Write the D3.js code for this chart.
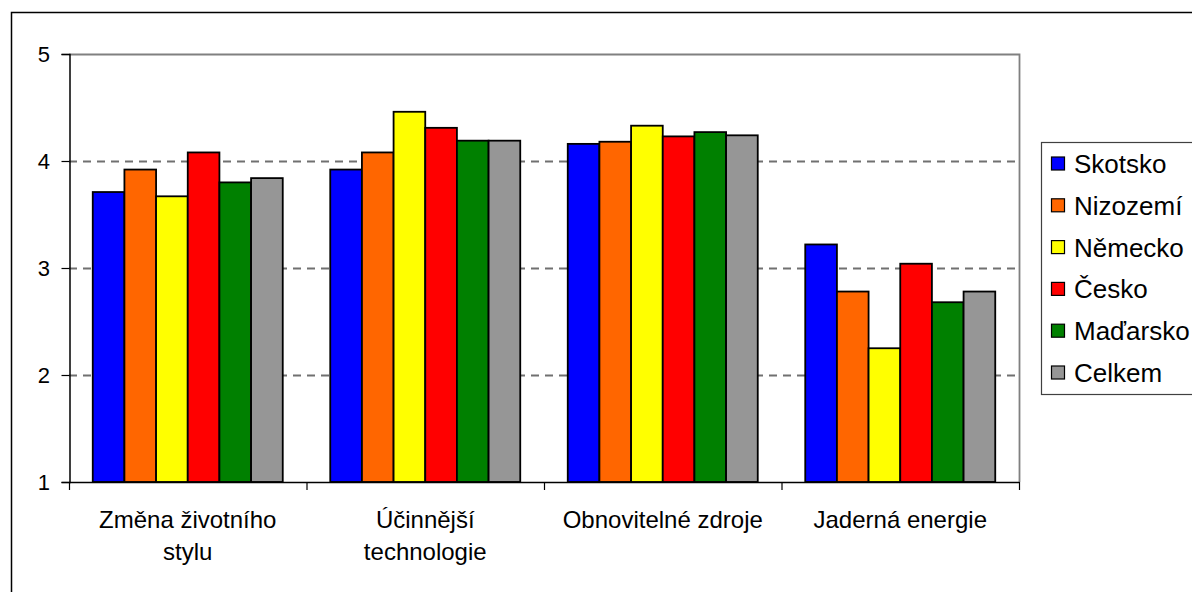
<!DOCTYPE html>
<html>
<head>
<meta charset="utf-8">
<script src="https://cdn.jsdelivr.net/npm/d3@7"></script>
<style>
  html, body { margin: 0; padding: 0; background: #fff; }
  svg { display: block; font-family: "Liberation Sans", Arial, sans-serif; }
  .ylab { font-size: 22px; }
</style>
</head>
<body>
<svg id="chart" width="1192" height="592"></svg>
<script>
// Categories (two-line labels split by "\n")
const categories = ["Změna životního\nstylu", "Účinnější\ntechnologie", "Obnovitelné zdroje", "Jaderná energie"];
const seriesNames = ["Skotsko", "Nizozemí", "Německo", "Česko", "Maďarsko", "Celkem"];
const seriesColors = ["#0000ff", "#ff6600", "#ffff00", "#ff0000", "#008000", "#969696"];

// Mean values per series, one entry per category
const skotsko  = [3.71, 3.92, 4.16, 3.22];
const nizozemi = [3.92, 4.08, 4.18, 2.78];
const nemecko  = [3.67, 4.46, 4.33, 2.25];
const cesko    = [4.08, 4.31, 4.23, 3.04];
const madarsko = [3.80, 4.19, 4.27, 2.68];
const celkem   = [3.84, 4.19, 4.24, 2.78];
const seriesValues = [skotsko, nizozemi, nemecko, cesko, madarsko, celkem];

const yTicks = [1, 2, 3, 4, 5];

const svg = d3.select("#chart");
const plot = { left: 69, right: 1019, top: 54, bottom: 482 };

// Outer chart frame (runs off the right and bottom edges)
svg.append("rect")
  .attr("x", 11.5).attr("y", 12.5)
  .attr("width", 1300).attr("height", 700)
  .attr("fill", "none").attr("stroke", "#000").attr("stroke-width", 1.5);

const x0 = d3.scaleBand().domain(d3.range(categories.length))
  .range([plot.left, plot.right]).padding(0);
// Bar group spans 80% of each category band (gap width 150%)
const groupPad = x0.bandwidth() * 0.1;
const x1 = d3.scaleBand().domain(d3.range(seriesNames.length))
  .range([groupPad, x0.bandwidth() - groupPad]).padding(0);
const y = d3.scaleLinear().domain([1, 5]).range([plot.bottom, plot.top]);

// Dashed gridlines
svg.append("g").selectAll("line").data(yTicks.filter(t => t > 1 && t < 5)).join("line")
  .attr("x1", plot.left).attr("x2", plot.right)
  .attr("y1", d => Math.round(y(d)) + 0.5).attr("y2", d => Math.round(y(d)) + 0.5)
  .attr("stroke", "#707070").attr("stroke-width", 1.8).attr("stroke-dasharray", "8,6");

// Plot-area border on top and right
svg.append("path")
  .attr("d", `M${plot.left},${plot.top + 0.5}H${plot.right + 0.5}V${plot.bottom}`)
  .attr("fill", "none").attr("stroke", "#808080").attr("stroke-width", 1.8);

// Bars
const groups = svg.append("g").selectAll("g").data(categories).join("g")
  .attr("transform", (d, i) => `translate(${x0(i)},0)`);
groups.selectAll("rect")
  .data((d, ci) => seriesValues.map((vals, si) => ({ si, v: vals[ci] })))
  .join("rect")
  .attr("x", d => x1(d.si))
  .attr("width", x1.bandwidth())
  .attr("y", d => y(d.v))
  .attr("height", d => y(1) - y(d.v))
  .attr("fill", d => seriesColors[d.si])
  .attr("stroke", "#000").attr("stroke-width", 1.8);

// Y axis (line and ticks from d3.axisLeft, labels set separately)
const yAxis = svg.append("g").attr("transform", `translate(${plot.left + 0.5},0)`)
  .call(d3.axisLeft(y).tickValues(yTicks).tickFormat("").tickSize(8));
yAxis.select(".domain").attr("stroke", "#000").attr("stroke-width", 1.5);
yAxis.selectAll(".tick line").attr("stroke", "#000").attr("stroke-width", 1.2);

svg.append("g").selectAll("text").data(yTicks).join("text")
  .attr("class", "ylab")
  .attr("x", 50).attr("y", d => y(d))
  .attr("dy", "0.36em")
  .attr("text-anchor", "end").attr("fill", "#000")
  .text(d => d);

// X axis: ticks at category boundaries
const xAxisG = svg.append("g");
xAxisG.append("line")
  .attr("x1", plot.left).attr("x2", plot.right + 0.5)
  .attr("y1", plot.bottom + 0.5).attr("y2", plot.bottom + 0.5)
  .attr("stroke", "#000").attr("stroke-width", 1.5);
xAxisG.selectAll("line.tk").data(d3.range(categories.length + 1)).join("line")
  .attr("class", "tk")
  .attr("x1", i => (i < categories.length ? x0(i) : plot.right) + 0.5)
  .attr("x2", i => (i < categories.length ? x0(i) : plot.right) + 0.5)
  .attr("y1", plot.bottom).attr("y2", plot.bottom + 8)
  .attr("stroke", "#000").attr("stroke-width", 1.2);

const labels = xAxisG.selectAll("text.cat").data(categories).join("text")
  .attr("class", "cat")
  .attr("x", (d, i) => x0(i) + x0.bandwidth() / 2)
  .attr("y", 528)
  .attr("text-anchor", "middle").attr("font-size", 24).attr("fill", "#000");
labels.selectAll("tspan").data(d => d.split("\n")).join("tspan")
  .attr("x", function () { return d3.select(this.parentNode).attr("x"); })
  .attr("dy", (d, i) => i === 0 ? 0 : 32)
  .text(d => d);

// Legend
const legend = svg.append("g");
legend.append("rect")
  .attr("x", 1041.5).attr("y", 142.5).attr("width", 200).attr("height", 252)
  .attr("fill", "#fff").attr("stroke", "#404040").attr("stroke-width", 1.2);
const items = legend.selectAll("g").data(seriesNames).join("g")
  .attr("transform", (d, i) => `translate(0,${164 + i * 41.8})`);
items.append("rect")
  .attr("x", 1051.5).attr("y", -7).attr("width", 13).attr("height", 13)
  .attr("fill", (d, i) => seriesColors[i]).attr("stroke", "#000").attr("stroke-width", 1.2);
items.append("text")
  .attr("x", 1074).attr("y", 9)
  .attr("font-size", 26).attr("fill", "#000")
  .text(d => d);
</script>
</body>
</html>
